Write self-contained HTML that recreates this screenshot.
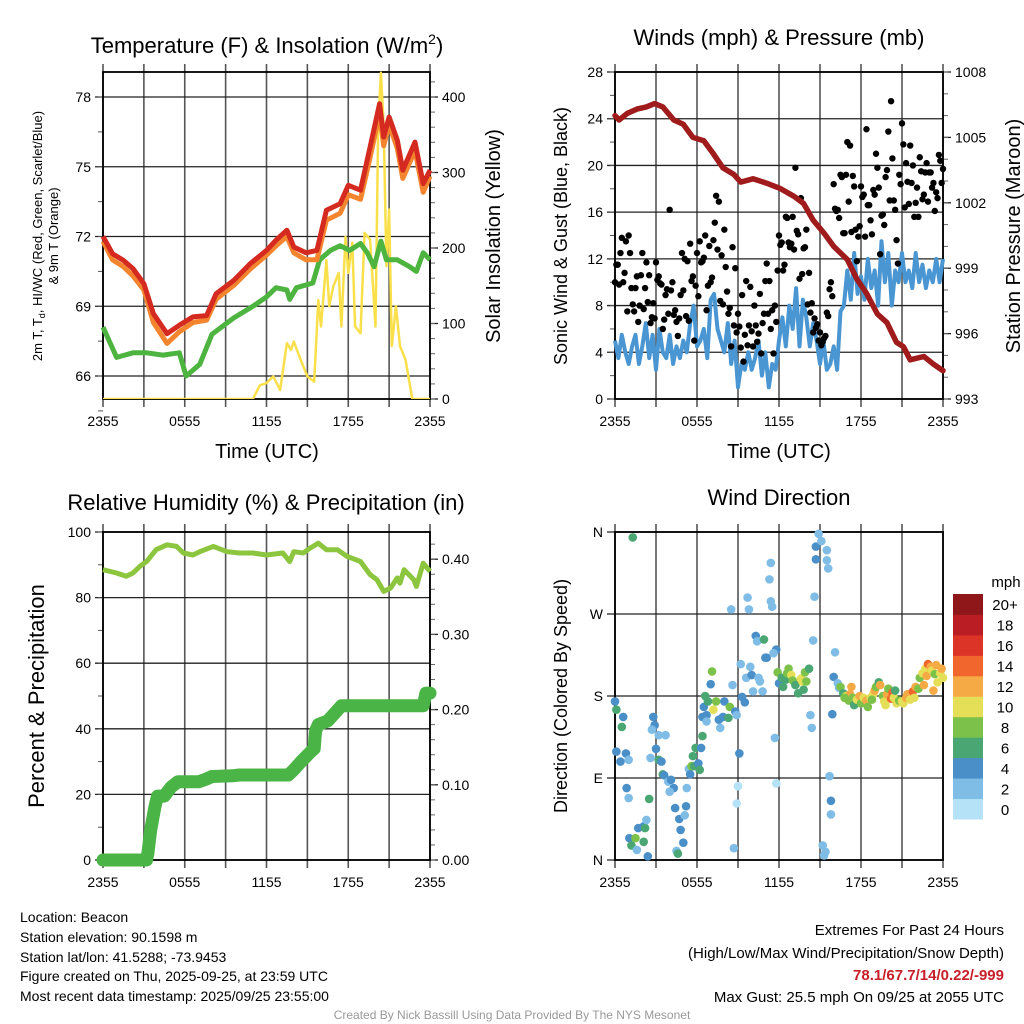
<!DOCTYPE html>
<html><head><meta charset="utf-8">
<style>
body{margin:0;background:#fff;}
svg{display:block;font-family:"Liberation Sans",sans-serif;}
</style></head>
<body>
<svg id="c" width="1024" height="1024" viewBox="0 0 1024 1024"></svg>
<script>
// ---------- DATA ----------
const tempHours=[0,0.7,1.5,2.2,3,3.7,4.7,5.6,6.6,7.6,8.3,9.6,10.8,12,12.7,13.5,14,14.9,15.7,16.4,17.4,18,18.9,19.6,20.3,20.6,21,21.6,22,22.9,23.5,24];
const tempRed=[72,71.26,70.97,70.62,69.97,68.68,67.82,68.18,68.54,68.6,69.54,70.11,70.83,71.4,71.84,72.27,71.55,71.3,71.4,73.13,73.41,74.2,73.99,75.85,77.71,76.28,77.14,76.14,74.85,76.06,74.27,74.85];
const tempOrange=[71.8,71.0,70.7,70.3,69.7,68.3,67.4,67.9,68.3,68.4,69.3,69.9,70.6,71.2,71.6,72.0,71.3,71.0,71.0,72.7,73.0,73.8,73.6,75.4,77.3,75.9,76.8,75.8,74.5,75.7,73.9,74.6];
const dewHours=[0,1,2.2,3.2,4.4,5.6,6.1,7.1,8,9.6,11,12,12.7,13.5,13.7,14.2,15.4,15.9,16.7,17.4,18.1,18.9,19.4,19.9,20.4,20.8,21.6,22.5,23,23.5,24];
const dewGreen=[68.1,66.8,67.0,67.0,66.9,67.0,66.0,66.5,67.8,68.5,69.0,69.4,69.8,69.7,69.3,69.8,70.0,71.0,71.4,71.6,71.4,71.7,71.3,70.7,71.8,71.0,71.0,70.7,70.5,71.3,71.0];
const solHours=[0,11,11.5,12,12.5,13,13.5,13.8,14,14.5,15,15.5,15.8,16,16.4,16.6,16.9,17.3,17.5,17.8,18,18.3,18.5,18.9,19.2,19.6,20,20.2,20.4,20.6,20.8,21,21.2,21.5,21.8,22.2,22.7,24];
const solar=[0,0,18,21,30,12,74,65,76,52,30,23,131,96,184,123,149,167,96,215,167,207,96,87,220,211,96,361,432,361,176,251,70,123,70,52,0,0];
const pressHours=[0,0.3,0.9,1.6,2.3,2.9,3.5,4.3,5,5.7,6.5,7.2,7.9,8.7,9.2,10.1,11.1,12.1,13.1,13.8,14.5,15.3,16,17,17.7,18.4,19.2,19.9,20.6,21.1,21.6,22.6,23.3,24];
const pressure=[1006.0,1005.8,1006.1,1006.3,1006.4,1006.55,1006.4,1005.8,1005.6,1005.0,1004.85,1004.25,1003.6,1003.3,1002.95,1003.1,1002.9,1002.65,1002.3,1001.97,1001.2,1000.6,1000.0,999.4,998.5,997.85,996.9,996.5,995.6,995.4,994.8,994.95,994.6,994.3];
const windSustained=[5,3.5,5.5,4, 3,4.5,5.5,3, 4.5,6.5,3.5,5.5, 2.5,6,4,3.5, 5.5,3,4.5,3.5, 5,4,6.5,8, 4.5,5,6,3.5, 8.5,9,6,5, 4,6.5,3,5, 1,3,2.5,4, 2.5,3.5,5,2, 4,1,3,2.5, 5,7,4.5,8, 6,9.5,4.5,8.5, 7,4.5,6.5,5, 3,5,2.5,3, 4.5,2.5,7.5,8, 11,8.5,12.5,9, 10.5,8.5,12,9.5, 11,8,13.5,10, 12.5,8,11,10, 12.5,10,11,9.5, 12.5,10,11.5,9.5, 11,10,12,10, 12];
const gustA=[10,11.5,12.5,10,13.5,14,9.5,7.5,10.5,8,12.5,9.5,8.3,6.5,8.2, 11.7,10.5,9.8,6.8,9.4,16.2,10,7.6,5.4,8.9,9.3,7.1,6.7,10.1,5, 12.5,13.5,11.8,14,9.7,10,13.6,17.4,16.9,12.3,14.5,9.2,7.8,13,11.2, 7.3,4.4,3.2,10.1,6.3,5.8,8,4.9,9,6.5,10.1,7.3,6,3.9,6.6, 14,13.4,11.5,15.5,13,15.6,19.8,14.1,17.2,12.9,14.5,10.8,8.2,6.9,6.4, 5.7,4.9,5.4,7.1,10,18.4,16.1,15.5,19,14.2,22,21.7,19.1,14.5,13.9, 18.2,17.5,23.1,16.6,14.1,17.5,19.8,12.4,15.8,19,22.9,25.5,17,13.6,19.2, 23.6,16.4,18.6,21.7,20,16.8,15.6,19.5,17.5,20.2,19.4,18.1,16.1,17.2,20.4, 19.7];
const gustB=[11.5,9.8,13.8,10.8,7.5,12.5,8.1,9.5,6.6,10.6,7.7,11.7,10.6,7,6.9, 10.2,9.9,6,8.9,7.3,9.3,7.2,6.6,6.9,12.5,12,11.8,13.3,10.5,9.7, 8.8,11.7,12.1,7.6,13.1,10.4,15.1,12.8,8.4,8.1,11.3,7.3,4.5,6.3,5.7, 6.2,8.9,5.5,4.6,9.6,4.5,6.3,5.6,3.9,7.3,11.6,10.1,7.6,8,11, 13.2,11,15.6,13.4,13.3,12.8,14.4,10.3,10.7,13,8.1,7.4,5.7,6.1,5, 4.6,5.2,7.4,9.4,8.8,16.3,16.2,19.2,14.2,19.2,16.9,14.3,18.2,11.8,14.8, 17.3,13.9,16.6,15.3,17.9,21,18.1,15.7,14.9,19.6,17,20.6,16.2,11.6,18.4, 21.8,20.2,16.7,18.5,15.6,18.1,20.7,17.1,19.4,16.9,19.4,18.5,17.7,20.9,18.5];
const rhHours=[0,1,1.7,2.2,2.7,3.2,3.9,4.7,5.4,5.9,6.6,7.1,8.1,9.1,10,11,12,13.2,13.7,14,14.7,15.2,15.8,16.4,17.2,17.9,18.9,19.6,20.1,20.6,21.1,21.6,21.8,22.1,22.8,23,23.5,24];
const rh=[88.5,87.5,86.5,87.5,89.5,91,94.6,96.1,95.6,93.6,93,94,95.6,94,93.6,93.6,93,93.6,91,94,93.6,95.1,96.6,94.6,94.6,92.6,91,87,85.5,81.9,82.9,86,84.4,88.5,85.5,83.4,90.5,88];
const precipHours=[0,3.2,3.3,3.5,3.8,4,4.5,5,5.5,7,7.5,8,9.5,10,13.6,14,14.5,15.3,15.5,15.6,15.8,16.5,17,17.5,23.5,23.7,24];
const precip=[0,0,0.01,0.04,0.07,0.085,0.085,0.097,0.104,0.104,0.107,0.111,0.112,0.113,0.113,0.12,0.13,0.145,0.148,0.172,0.18,0.185,0.195,0.205,0.205,0.222,0.222];
const dirHours=[0,0.1,0.6,0.5,0.1,0.4,0.8,1,0.85,1,1.3,1.05,1.2,1.5,1.6,1.7,2.1,2.2,2.3,2.1,2.5,2.4,2.8,2.9,2.7,3,3.2,2.6,3.4,3.2,3.7,3.5,3.6,3.9,4.1,4.3,4,4.4,4.7,4.8,5,5.2,5.1,4.5,4.6,5.25,5.4,5.6,5.8,6.1,6.2,5.5,5.7,5.9,6.3,6.4,6.4,6.7,6.7,6.5,6.6,6.8,7,7.1,7.2,7.4,7.6,7.7,7.9,8,8.3,8.4,8.6,8.5,8.8,8.9,9,8.9,8.7,9.1,9.2,9.3,9.5,9.6,9.7,9.8,9.9,10,10.1,10.3,10.4,10.5,10.6,10.8,10.9,11,11.1,11.3,11.4,11.4,11.5,11.7,11.8,11.8,11.6,11.9,12,12.2,12.3,12.5,12.6,12.7,12.9,13,13.2,13.4,13.6,13.7,13.8,13.9,14,14.2,14.3,14.4,14.5,14.6,14.7,14.7,14.9,15.1,15.5,15.5,15.6,15.2,15.3,15.4,15.7,15.8,15.8,15.9,16.1,16,16.3,16.4,16.5,16.7,16.9,17.1,17.2,17.4,17.5,17.7,17.9,18,18.2,18.4,18.5,18.7,18.9,19,19.1,19.3,19.4,19.6,19.7,19.9,20,20.2,20.3,20.4,20.6,20.8,21,21.1,21.3,21.4,21.6,21.8,22,22.2,22.3,22.5,22.7,22.8,22.9,23.1,23.2,23.4,23.5,23.6,23.8,23.9,24,23.3,22.6,21.9,20.5,19.8,18.8,17.3,16.8];
const dirDeg=[174,165,157,146,119,108,117,110,79,68,354,24,16,24,11,35,37,35,44,20,67,4,157,148,143,122,110,112,108,137,137,94,93,86,88,79,75,57,45,33,19,59,49,10,7,79,100,103,103,106,99,94,114,123,123,136,157,159,152,168,180,174,193,207,165,174,154,145,157,174,156,168,192,275,163,159,81,62,13,117,215,179,173,200,288,275,212,203,185,246,240,200,196,185,242,222,222,308,326,284,278,134,84,231,227,206,194,200,190,198,205,210,203,197,192,183,199,196,187,206,196,210,159,145,241,289,330,344,358,350,340,329,320,16,5,9,92,65,50,160,228,201,194,189,190,183,180,175,182,178,170,176,180,172,178,175,168,178,182,186,190,195,192,180,174,182,188,177,184,178,172,175,174,172,178,182,176,185,190,188,200,205,210,202,215,212,208,204,214,195,205,210,200,186,192,178,186,170,176,190,178];
const dirSpeed=[4,7,4,7,4,4,4,3,4,3,6,4,7,8,3,4,4,6,3,7,6,4,4,4,3,4,6,3,4,3,3,6,4,3,4,4,3,4,4,4,4,4,3,3,6,3,3,8,6,4,6,4,6,6,4,6,4,4,3,4,6,6,4,8,10,8,4,3,4,4,6,8,3,3,4,3,1,1,3,4,3,4,4,3,3,3,3,4,3,4,3,3,3,3,6,4,4,3,3,3,3,3,0.5,4,3,8,4,6,6,6,8,8,10,8,6,6,10,10,6,8,8,6,3,3,3,3,4,4,3,3,3,3,3,3,3,3,3,4,3,4,3,4,3,3,8,6,10,8,12,8,6,10,12,8,10,12,8,10,10,12,8,6,12,8,10,12,8,14,14,10,10,8,10,10,12,12,10,14,12,8,8,10,10,12,14,12,10,8,12,10,10,12,10,12,12,10,6,10,8,12,8];
const speedBinColors=["#b5e2f7","#7fbde6","#4a8fc7","#4aa673","#7cc24a","#e4df57","#f6aa45","#f0662d","#dd3428","#ba1e24","#8f171a"];
const speedBinLabels=["0","2","4","6","8","10","12","14","16","18","20+"];
const xTickLabels=["2355","0555","1155","1755","2355"];

// ---------- helpers ----------
const NS="http://www.w3.org/2000/svg";
const svg=document.getElementById('c');
function mk(tag,attrs,parent){const e=document.createElementNS(NS,tag);for(const k in attrs)e.setAttribute(k,attrs[k]);(parent||svg).appendChild(e);return e;}
function txt(s,x,y,size,anchor,parent,extra){const e=mk('text',Object.assign({x:x,y:y,'font-size':size,'text-anchor':anchor||'middle',fill:'#000'},extra||{}),parent);e.textContent=s;return e;}

const P1={x0:103,x1:430,y0:72,y1:399},P2={x0:615,x1:943,y0:72,y1:399},P3={x0:103,x1:430,y0:532,y1:860},P4={x0:615,x1:943,y0:532,y1:860};
const xs=(P,h)=>P.x0+h/24*(P.x1-P.x0);
const yTemp=t=>376-(t-66)*23.25, ySol=w=>399-w*0.755;
const yWind=w=>399-w*327/28, yPres=p=>399-(p-993)*327/15;
const yRH=r=>860-r*3.28, yPr=v=>860-v*752;
const yDir=d=>860-d*328/360;

function frame(P,name,leftMaj,leftMinor,yfL,leftFmt,rightMaj,rightMinor,yfR,rightFmt){
  const g=mk('g',{});
  
  
  for(let i=0;i<=8;i++){const x=P.x0+i*(P.x1-P.x0)/8;
    const l=mk('line',{x1:x,x2:x,y1:P.y0-8,y2:P.y1+8,stroke:'#555','stroke-width':1.6},g);
    
    }
  for(let i=0;i<5;i++){const x=P.x0+i*(P.x1-P.x0)/4;const t=txt(xTickLabels[i],x,P.y1+27,14,'middle',g);
    
    }
  leftMaj.forEach((v,i)=>{const y=yfL(v);
    const l=mk('line',{x1:P.x0-8,x2:P.x1,y1:y,y2:y,stroke:'#222','stroke-width':1.3},g);
    
    
    const t=txt(leftFmt(v,i),P.x0-12,y+5,14,'end',g);
    
    });
  leftMinor.forEach(v=>{const y=yfL(v);const l=mk('line',{x1:P.x0-5,x2:P.x0,y1:y,y2:y,stroke:'#555','stroke-width':1},g);
    
    });
  if(rightMaj){rightMaj.forEach(v=>{const y=yfR(v);
    const l=mk('line',{x1:P.x1,x2:P.x1+8,y1:y,y2:y,stroke:'#222','stroke-width':1.3},g);
    
    
    const t=txt(rightFmt(v),P.x1+12,y+5,14,'start',g);
    
    });
   rightMinor.forEach(v=>{const y=yfR(v);const l=mk('line',{x1:P.x1,x2:P.x1+5,y1:y,y2:y,stroke:'#666','stroke-width':1},g);
    
    });}
  const r=mk('rect',{x:P.x0,y:P.y0,width:P.x1-P.x0,height:P.y1-P.y0,fill:'none',stroke:'#000','stroke-width':1.8},g);
  
  
  return g;
}
function range(a,b,s){const o=[];for(let v=a;v<=b+1e-9;v+=s)o.push(+v.toFixed(4));return o;}
function pathD(P,hs,vs,yf){return hs.map((h,i)=>(i?'L':'M')+xs(P,h).toFixed(1)+','+yf(vs[i]).toFixed(1)).join('');}

// ---------- Panel 1 ----------
frame(P1,'temperature-panel',[66,69,72,75,78],range(64.5,79,1.5),yTemp,v=>v,[0,100,200,300,400],range(0,420,20),ySol,v=>v);
const clip1=mk('clipPath',{id:'cp1'});mk('rect',{x:P1.x0,y:P1.y0-4,width:P1.x1-P1.x0+3,height:P1.y1-P1.y0+4},clip1);
let e;
e=mk('path',{d:pathD(P1,solHours,solar,ySol),fill:'none',stroke:'#f9e04b','stroke-width':2.5,'stroke-linejoin':'round','clip-path':'url(#cp1)'});


e=mk('path',{d:pathD(P1,dewHours,dewGreen,yTemp),fill:'none',stroke:'#4cb43f','stroke-width':5,'stroke-linejoin':'round'});


e=mk('path',{d:pathD(P1,tempHours,tempOrange,yTemp),fill:'none',stroke:'#f4852f','stroke-width':5,'stroke-linejoin':'round'});


e=mk('path',{d:pathD(P1,tempHours,tempRed,yTemp),fill:'none',stroke:'#d42a20','stroke-width':5,'stroke-linejoin':'round'});



// ---------- Panel 2 ----------
frame(P2,'winds-panel',range(0,28,4),range(0,28,2),yWind,v=>v,range(993,1008,3),range(993,1008,1),yPres,v=>v);
const windHours=windSustained.map((v,i)=>i*0.25);
e=mk('path',{d:pathD(P2,windHours,windSustained,yWind),fill:'none',stroke:'#4a96d2','stroke-width':4,'stroke-linejoin':'round'});


gustA.forEach((v,i)=>{const c=mk('circle',{cx:xs(P2,i*0.2),cy:yWind(v),r:3.2,fill:'#000'});
  
  });
gustB.forEach((v,i)=>{const c=mk('circle',{cx:xs(P2,0.1+i*0.2),cy:yWind(v),r:3.2,fill:'#000'});
  
  });
e=mk('path',{d:pathD(P2,pressHours,pressure,yPres),fill:'none',stroke:'#a01c1c','stroke-width':5.5,'stroke-linejoin':'round','stroke-linecap':'round'});



// ---------- Panel 3 ----------
frame(P3,'humidity-panel',range(0,100,20),range(0,100,10),yRH,v=>v,[0,0.1,0.2,0.3,0.4],range(0,0.42,0.02),yPr,v=>v.toFixed(2));
e=mk('path',{d:pathD(P3,rhHours,rh,yRH),fill:'none',stroke:'#8cc63f','stroke-width':5,'stroke-linejoin':'round'});


e=mk('path',{d:pathD(P3,precipHours,precip,yPr),fill:'none',stroke:'#4bb446','stroke-width':13,'stroke-linejoin':'round','stroke-linecap':'round'});



// ---------- Panel 4 ----------
frame(P4,'wind-direction-panel',[0,90,180,270,360],[],yDir,(v,i)=>['N','E','S','W','N'][i],null);
dirHours.forEach((h,i)=>{const b=Math.min(10,Math.floor(dirSpeed[i]/2));
  const c=mk('circle',{cx:xs(P4,h),cy:yDir(dirDeg[i]),r:4.3,fill:speedBinColors[b]});
  
  });
const cb=mk('g',{});


const bh=225/11;
speedBinColors.forEach((col,i)=>{const y=819-(i+1)*bh;
  const r=mk('rect',{x:953,y:y,width:30,height:bh+0.5,fill:col},cb);
  
  
  const t=txt(speedBinLabels[i],1005,y+bh/2+6,15,'middle',cb);
  
  });
e=txt('mph',1006,587,15,'middle',cb);


</script>
<svg width="1024" height="1024" style="position:absolute;left:0;top:0" font-family="Liberation Sans, sans-serif">
<text x="267" y="53" font-size="22" text-anchor="middle">Temperature (F) &amp; Insolation (W/m<tspan dy="-9" font-size="14">2</tspan><tspan dy="9">)</tspan></text>
<text x="779" y="45" font-size="22" text-anchor="middle">Winds (mph) &amp; Pressure (mb)</text>
<text x="266" y="510" font-size="22" text-anchor="middle">Relative Humidity (%) &amp; Precipitation (in)</text>
<text x="779" y="505" font-size="22" text-anchor="middle">Wind Direction</text>
<text transform="translate(42,236) rotate(-90)" font-size="13" text-anchor="middle">2m T, T<tspan dy="3" font-size="9">d</tspan><tspan dy="-3">, HI/WC (Red, Green, Scarlet/Blue)</tspan></text>
<text transform="translate(58,236) rotate(-90)" font-size="13" text-anchor="middle">&amp; 9m T (Orange)</text>
<text transform="translate(500,236) rotate(-90)" font-size="20" text-anchor="middle">Solar Insolation (Yellow)</text>
<text transform="translate(567,236) rotate(-90)" font-size="18" text-anchor="middle">Sonic Wind &amp; Gust (Blue, Black)</text>
<text transform="translate(1020,236) rotate(-90)" font-size="20" text-anchor="middle">Station Pressure (Maroon)</text>
<text transform="translate(44,696) rotate(-90)" font-size="22" text-anchor="middle">Percent &amp; Precipitation</text>
<text transform="translate(567,696) rotate(-90)" font-size="18" text-anchor="middle">Direction (Colored By Speed)</text>
<text x="267" y="458" font-size="20" text-anchor="middle">Time (UTC)</text>
<text x="779" y="458" font-size="20" text-anchor="middle">Time (UTC)</text>
<g font-size="14">
<text x="20" y="922">Location: Beacon</text>
<text x="20" y="942">Station elevation: 90.1598 m</text>
<text x="20" y="962">Station lat/lon: 41.5288; -73.9453</text>
<text x="20" y="981">Figure created on Thu, 2025-09-25, at 23:59 UTC</text>
<text x="20" y="1001">Most recent data timestamp: 2025/09/25 23:55:00</text>
</g>
<g font-size="15" text-anchor="end">
<text x="1004" y="935">Extremes For Past 24 Hours</text>
<text x="1004" y="958">(High/Low/Max Wind/Precipitation/Snow Depth)</text>
<text x="1004" y="980" fill="#c8202a" font-weight="bold">78.1/67.7/14/0.22/-999</text>
<text x="1004" y="1002">Max Gust: 25.5 mph On 09/25 at 2055 UTC</text>
</g>
<text x="512" y="1019" font-size="12" fill="#999" text-anchor="middle">Created By Nick Bassill Using Data Provided By The NYS Mesonet</text>
</svg>
</body></html>
